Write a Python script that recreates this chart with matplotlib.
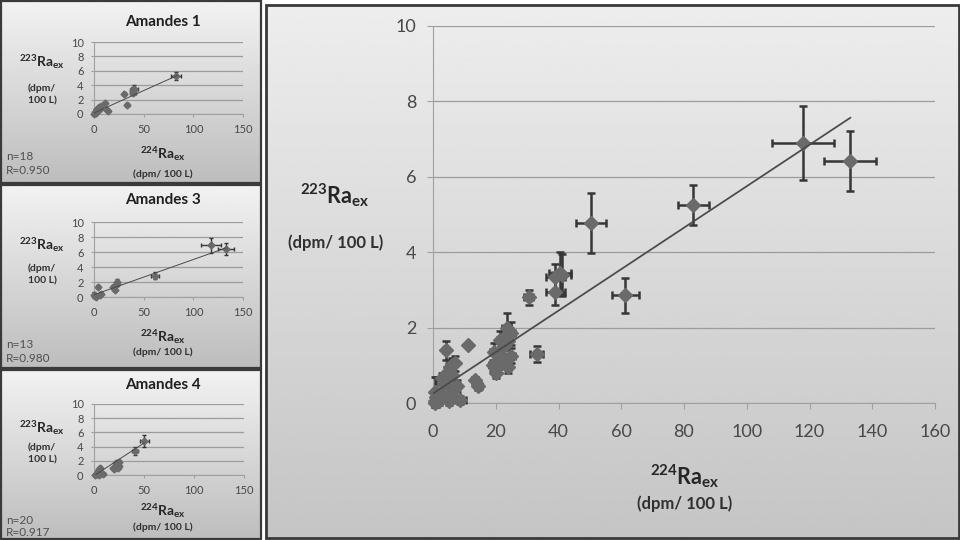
import numpy as np
import matplotlib
matplotlib.use("Agg")
import matplotlib.pyplot as plt
from matplotlib.patches import Rectangle

plt.rcParams['font.family'] = ['Lato', 'DejaVu Sans']
plt.rcParams['mathtext.fontset'] = 'custom'
plt.rcParams['mathtext.rm'] = 'Lato:bold'
plt.rcParams['mathtext.it'] = 'Lato:bold'
plt.rcParams['mathtext.bf'] = 'Lato:bold'

# ---------------- data ----------------
titles = ["Amandes 1", "Amandes 3", "Amandes 4"]
n_labels = ["n=18", "n=13", "n=20"]
r_labels = ["R=0.950", "R=0.980", "R=0.917"]

a1_x = [83.0, 40.5, 39.0, 39.0, 30.5, 33.0, 11.0, 13.5, 14.5, 2.0, 0.5, 1.0, 3.0, 4.5, 5.5, 7.0, 6.0, 3.5]
a1_y = [5.25, 3.45, 3.35, 2.95, 2.80, 1.30, 1.55, 0.60, 0.45, 0.10, 0.05, 0.30, 0.65, 0.80, 0.95, 1.05, 0.75, 0.50]
a1_xerr = [5.0, 3.5, 3.0, 3.0, 1.5, 2.0, 0.0, 1.0, 1.0, 0.5, 0.3, 0.5, 0.6, 0.6, 0.7, 0.8, 0.7, 0.5]
a1_yerr = [0.53, 0.55, 0.35, 0.35, 0.20, 0.20, 0.0, 0.10, 0.10, 0.10, 0.10, 0.40, 0.15, 0.15, 0.20, 0.20, 0.15, 0.10]

a3_x = [118.0, 133.0, 61.3, 23.5, 23.0, 19.5, 21.0, 4.0, 7.5, 6.0, 1.0, 2.0, 0.5]
a3_y = [6.90, 6.42, 2.86, 2.00, 1.75, 1.35, 1.00, 1.40, 0.45, 0.30, 0.15, 0.05, 0.30]
a3_xerr = [9.8, 8.3, 4.2, 1.5, 1.5, 1.2, 1.2, 0.8, 1.0, 0.8, 0.4, 0.5, 0.4]
a3_yerr = [0.98, 0.80, 0.46, 0.40, 0.30, 0.25, 0.20, 0.25, 0.15, 0.10, 0.10, 0.10, 0.40]

a4_x = [50.3, 41.0, 20.0, 21.0, 22.0, 22.5, 24.0, 25.0, 24.0, 19.0, 25.0, 21.5,
        0.5, 1.5, 3.0, 4.0, 5.0, 6.0, 8.6, 5.0]
a4_y = [4.77, 3.40, 0.80, 1.05, 1.20, 1.50, 1.65, 1.25, 0.95, 1.00, 1.85, 1.67,
        0.00, 0.10, 0.20, 0.60, 0.85, 1.00, 0.08, 0.05]
a4_xerr = [4.8, 3.0, 1.0, 1.0, 1.0, 1.0, 1.2, 1.2, 1.0, 1.0, 1.2, 1.0,
           0.3, 0.4, 0.5, 0.5, 0.6, 0.6, 2.0, 0.6]
a4_yerr = [0.80, 0.55, 0.15, 0.15, 0.20, 0.20, 0.25, 0.20, 0.15, 0.15, 0.30, 0.25,
           0.10, 0.10, 0.10, 0.15, 0.20, 0.20, 0.10, 0.10]

# trend lines: (slope, intercept, x_start, x_end)
fit_a1 = (0.062, 0.15, 0.0, 84.0)
fit_a3 = (0.047, 0.30, 0.0, 133.0)
fit_a4 = (0.092, -0.10, 2.0, 50.0)
fit_all = (0.055, 0.25, 0.0, 133.0)

xticks_small = [0, 50, 100, 150]
xticks_main = [0, 20, 40, 60, 80, 100, 120, 140, 160]
yticks = [0, 2, 4, 6, 8, 10]

# ---------------- figure ----------------
W, H = 960, 540
fig = plt.figure(figsize=(W / 100, H / 100), dpi=100)
bg = fig.add_axes([0, 0, 1, 1])
bg.axis('off')


def grad(x0, x1, y0, y1, ctop, cbot):
    g = np.linspace(ctop, cbot, 256).reshape(-1, 1)
    bg.imshow(g, cmap='gray', vmin=0, vmax=1, extent=(x0, x1, y1, y0),
              aspect='auto', interpolation='bilinear', origin='upper')


bg.add_patch(Rectangle((0, 0), W, H, color='white', zorder=-5))
panels = [(0, 0, 262, 184), (0, 184, 262, 369), (0, 369, 262, 540)]
for (x0, y0, x1, y1) in panels:
    grad(x0, x1, y0, y1, 0.95, 0.74)
grad(265, 960, 4, 540, 0.93, 0.77)
for (x0, y0, x1, y1) in panels:
    bg.add_patch(Rectangle((x0 + 1, y0 + 1), x1 - x0 - 2, y1 - y0 - 2, fill=False,
                           ec='#3a3a3a', lw=1.6, zorder=5))
bg.add_patch(Rectangle((266, 5), 693, 533, fill=False, ec='#3a3a3a', lw=2.0, zorder=5))
bg.set_xlim(0, W)
bg.set_ylim(H, 0)


def fx(x):
    return x / W


def fy(y):
    return 1 - y / H


def style_axes(ax, xt, xmax, fs, tlen, pad_x, pad_y):
    ax.patch.set_alpha(0)
    ax.set_xlim(0, xmax)
    ax.set_ylim(0, 10)
    ax.set_xticks(xt)
    ax.set_yticks(yticks)
    ax.grid(axis='y', color='#9c9c9c', lw=0.9)
    ax.set_axisbelow(True)
    for s in ['top', 'right']:
        ax.spines[s].set_visible(False)
    for s in ['left', 'bottom']:
        ax.spines[s].set_color('#a0a0a0')
    ax.tick_params(axis='x', colors='#a0a0a0', labelcolor='#484848', labelsize=fs,
                   length=tlen, pad=pad_x)
    ax.tick_params(axis='y', colors='#a0a0a0', labelcolor='#484848', labelsize=fs,
                   length=tlen, pad=pad_y)


def draw(ax, x, y, xe, ye, fit, ms, lw, cap):
    cont = ax.errorbar(x, y, xerr=xe, yerr=ye, fmt='D', ms=ms, mfc='#6a6a6a', mec='#6a6a6a',
                       ecolor='#363636', elinewidth=lw, capsize=cap, capthick=lw, zorder=3)
    for art in cont.get_children():
        art.set_clip_on(False)
    s, b, xa, xb = fit
    xs = np.array([xa, xb])
    ax.plot(xs, b + s * xs, color='#4a4a4a', lw=lw * 0.7, zorder=4)


# ---------------- small panels ----------------
small = [
    (a1_x, a1_y, a1_xerr, a1_yerr, fit_a1, 114, 42, 94, 243),
    (a3_x, a3_y, a3_xerr, a3_yerr, fit_a3, 297, 222, 94, 243),
    (a4_x, a4_y, a4_xerr, a4_yerr, fit_a4, 475, 404, 94, 244),
]
text_pos = [
    dict(title=22, yl=62, d1=88, d2=101, xl=154, xd=174, n=156, r=170),
    dict(title=200, yl=245, d1=268, d2=281, xl=337, xd=352, n=345, r=358),
    dict(title=385, yl=428, d1=447, d2=460, xl=511, xd=527, n=521, r=532),
]
for i, (x, y, xe, ye, fit, y0p, y10p, x0p, x150p) in enumerate(small):
    ax = fig.add_axes([fx(x0p), fy(y0p), (x150p - x0p) / W, (y0p - y10p) / H])
    style_axes(ax, xticks_small, 150, 8, 2.5, 5, 5)
    draw(ax, x, y, xe, ye, fit, 3.5, 1.0, 1.5)
    tp = text_pos[i]
    fig.text(fx(163), fy(tp['title']), titles[i], ha='center', va='center',
             fontsize=11, fontweight='bold', color='#202020')
    fig.text(fx(42), fy(tp['yl']), r'$\mathrm{^{223}Ra_{ex}}$', ha='center', va='center',
             fontsize=10, color='#262626')
    fig.text(fx(42), fy(tp['d1']), '(dpm/', ha='center', va='center',
             fontsize=7.5, fontweight='bold', color='#303030')
    fig.text(fx(42), fy(tp['d2']), '100 L)', ha='center', va='center',
             fontsize=7.5, fontweight='bold', color='#303030')
    fig.text(fx(163), fy(tp['xl']), r'$\mathrm{^{224}Ra_{ex}}$', ha='center', va='center',
             fontsize=10, color='#262626')
    fig.text(fx(163), fy(tp['xd']), '(dpm/ 100 L)', ha='center', va='center',
             fontsize=7.5, fontweight='bold', color='#303030')
    fig.text(fx(6), fy(tp['n']), n_labels[i], ha='left', va='center',
             fontsize=8.5, color='#505050')
    fig.text(fx(6), fy(tp['r']), r_labels[i], ha='left', va='center',
             fontsize=8.5, color='#505050')

# ---------------- main panel ----------------
axm = fig.add_axes([fx(433), fy(403), 502 / W, 377 / H])
style_axes(axm, xticks_main, 160, 13, 4, 11, 8)
all_x = a1_x + a3_x + a4_x
all_y = a1_y + a3_y + a4_y
all_xe = a1_xerr + a3_xerr + a4_xerr
all_ye = a1_yerr + a3_yerr + a4_yerr
draw(axm, all_x, all_y, all_xe, all_ye, fit_all, 7, 1.8, 3)

fig.text(fx(335), fy(195), r'$\mathrm{^{223}Ra_{ex}}$', ha='center', va='center',
         fontsize=15.5, color='#262626')
fig.text(fx(336), fy(243), '(dpm/ 100 L)', ha='center', va='center',
         fontsize=12, fontweight='bold', color='#303030')
fig.text(fx(685), fy(476), r'$\mathrm{^{224}Ra_{ex}}$', ha='center', va='center',
         fontsize=15.5, color='#262626')
fig.text(fx(685), fy(504), '(dpm/ 100 L)', ha='center', va='center',
         fontsize=12, fontweight='bold', color='#303030')

fig.savefig('out.png', dpi=100)
